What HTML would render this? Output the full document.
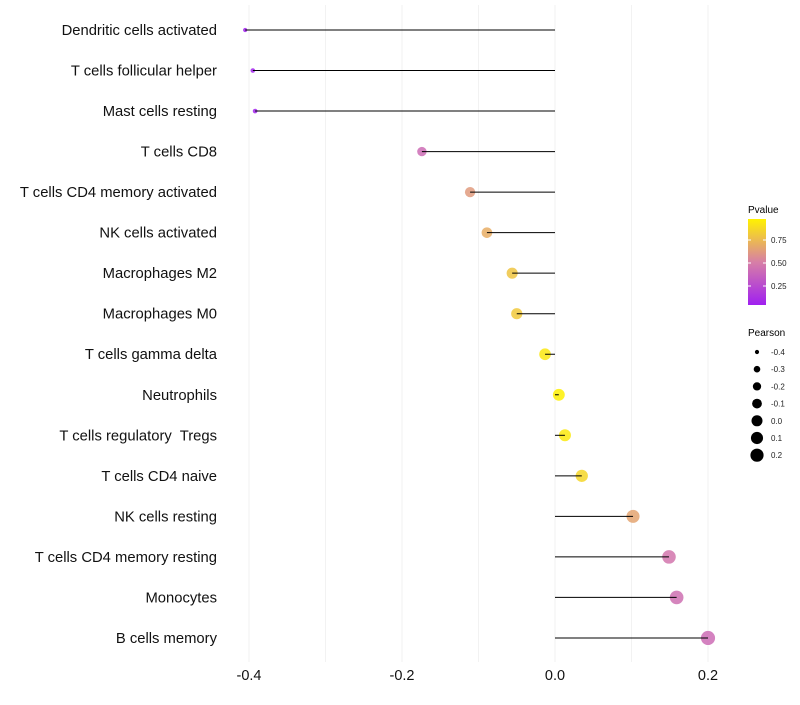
<!DOCTYPE html>
<html><head><meta charset="utf-8"><style>
body{margin:0;background:#fff;}
svg text{font-family:"Liberation Sans",sans-serif;white-space:pre;}
</style></head><body>
<svg id="chart" width="800" height="700" viewBox="0 0 800 700" xmlns="http://www.w3.org/2000/svg">
<defs><linearGradient id="pg" x1="0" y1="1" x2="0" y2="0">
<stop offset="0" stop-color="#a020f0"/><stop offset="0.5" stop-color="#d77fa6"/><stop offset="1" stop-color="#fff200"/></linearGradient></defs>
<g id="grid"></g>
<g id="dots"></g>
<g id="marks"></g>
<g id="ylabels"></g>
<g id="xlabels"></g>
<g>
<text x="748" y="213" font-size="10">Pvalue</text>
<rect x="748" y="219" width="18" height="86" fill="url(#pg)"/>
<g id="pticks"></g>
</g>
<g>
<text x="748" y="336" font-size="10">Pearson</text>
<g id="sizeLegend"></g>
</g>
</svg>
<script>
const categories=["Dendritic cells activated","T cells follicular helper","Mast cells resting","T cells CD8","T cells CD4 memory activated","NK cells activated","Macrophages M2","Macrophages M0","T cells gamma delta","Neutrophils","T cells regulatory  Tregs","T cells CD4 naive","NK cells resting","T cells CD4 memory resting","Monocytes","B cells memory"];
const pearson=[-0.405,-0.395,-0.392,-0.174,-0.111,-0.089,-0.056,-0.050,-0.013,0.005,0.013,0.035,0.102,0.149,0.159,0.200];
const pvalues=[0.01,0.02,0.02,0.40,0.62,0.70,0.80,0.82,0.95,0.99,0.96,0.88,0.66,0.45,0.42,0.40];
const xTicks=[-0.4,-0.2,0.0,0.2];
const xTickLabels=["-0.4","-0.2","0.0","0.2"];
const gridVals=[-0.4,-0.3,-0.2,-0.1,0,0.1,0.2];
const sizeLegendVals=[-0.4,-0.3,-0.2,-0.1,0.0,0.1,0.2];
const sizeLegendLabels=["-0.4","-0.3","-0.2","-0.1","0.0","0.1","0.2"];
const pTicks=[0.25,0.5,0.75];
const pTickLabels=["0.25","0.50","0.75"];

const NS="http://www.w3.org/2000/svg";
const x=v=>555+v*765;
const y=i=>30+i*40.53;
const r=v=>Math.sqrt(Math.max(3,5+75*(v+0.4)));
function hex(h){return [1,3,5].map(k=>parseInt(h.substr(k,2),16));}
const stops=[[0,hex("#a020f0")],[0.5,hex("#d77fa6")],[1,hex("#fff200")]];
function col(p){let a=stops[0],b=stops[1];if(p>0.5){a=stops[1];b=stops[2];}
const t=(p-a[0])/(b[0]-a[0]);return "rgb("+a[1].map((c,k)=>Math.round(c+(b[1][k]-c)*t)).join(",")+")";}
function el(tag,attrs,parent){const e=document.createElementNS(NS,tag);for(const k in attrs)e.setAttribute(k,attrs[k]);parent.appendChild(e);return e;}
const grid=document.getElementById('grid'),marks=document.getElementById('marks'),dots=document.getElementById('dots');
gridVals.forEach(v=>{const l=el('line',{x1:x(v),x2:x(v),y1:5,y2:662,stroke:'#f2f2f2','stroke-width':1},grid);

});
categories.forEach((c,i)=>{
const d=el('circle',{cx:x(pearson[i]),cy:y(i),r:r(pearson[i]),fill:col(pvalues[i]),'fill-opacity':0.85},dots);


const l=el('line',{x1:x(0),x2:x(pearson[i]),y1:y(i),y2:y(i),stroke:'#000','stroke-width':1},marks);


const t=el('text',{x:217,y:y(i)+5,'text-anchor':'end','font-size':14.8,fill:'#111'},document.getElementById('ylabels'));
t.textContent=c;


});
xTicks.forEach((v,i)=>{const t=el('text',{x:x(v),y:680,'text-anchor':'middle','font-size':14.5,fill:'#111'},document.getElementById('xlabels'));
t.textContent=xTickLabels[i];

});
const py=p=>309-p*92;
pTicks.forEach((p,i)=>{const g=document.getElementById('pticks');
el('line',{x1:748,x2:751,y1:py(p),y2:py(p),stroke:'#fff'},g);el('line',{x1:763,x2:766,y1:py(p),y2:py(p),stroke:'#fff'},g);
const t=el('text',{x:771,y:py(p)+3,'font-size':8,fill:'#222'},g);t.textContent=pTickLabels[i];

});
sizeLegendVals.forEach((v,i)=>{const g=document.getElementById('sizeLegend');const cy=352+i*17.2;
const c=el('circle',{cx:757,cy:cy,r:r(v)*0.93,fill:'#000'},g);


const t=el('text',{x:771,y:cy+3,'font-size':8,fill:'#222'},g);t.textContent=sizeLegendLabels[i];

});
</script>
</body></html>
